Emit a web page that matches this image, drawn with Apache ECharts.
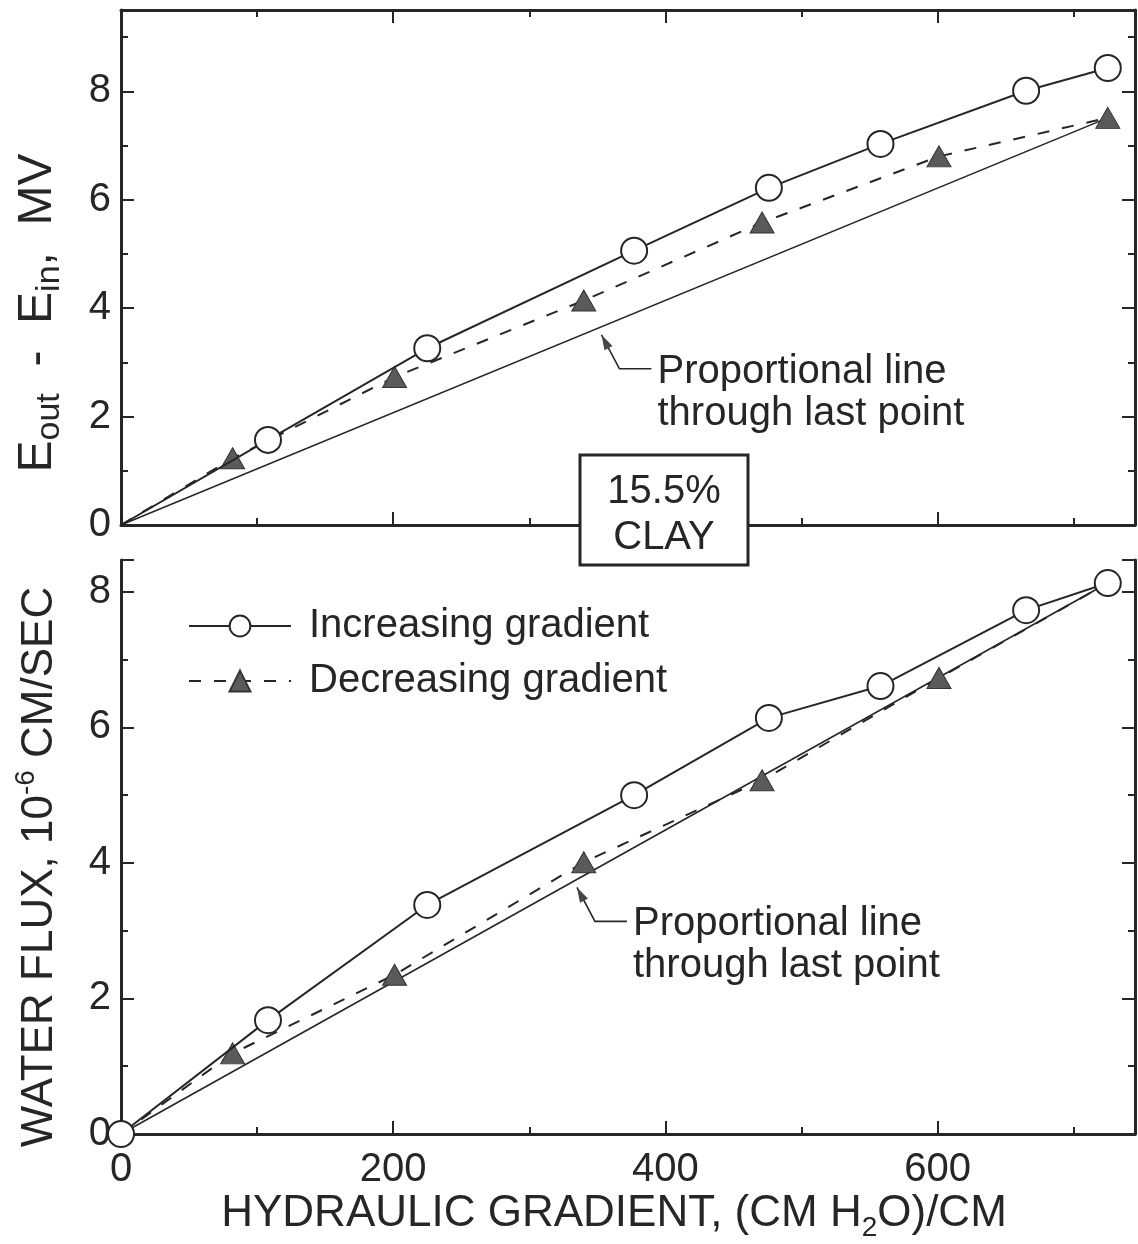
<!DOCTYPE html>
<html>
<head>
<meta charset="utf-8">
<script src="https://cdn.jsdelivr.net/npm/echarts@6/dist/echarts.min.js"></script>
<style>html,body{margin:0;padding:0;background:#fff}#c{width:1138px;height:1244px}</style>
</head>
<body>
<div id="c"></div>
<script>
// ---- data ----
const gradientInc = [0, 108, 225, 377, 476, 558, 665, 725];
const eIncreasing = [0, 1.57, 3.26, 5.06, 6.22, 7.03, 8.01, 8.43];
const fluxIncreasing = [0, 1.68, 3.38, 5.00, 6.14, 6.61, 7.73, 8.13];
const gradientDec = [0, 82, 201, 340, 471, 601, 725];
const eDecreasing = [0, 1.23, 2.73, 4.14, 5.58, 6.80, 7.51];
const fluxDecreasing = [0, 1.19, 2.35, 4.01, 5.22, 6.73, 8.13];
const xTickLabels = ['0', '200', '400', '600'];
const yTickLabels = ['0', '2', '4', '6', '8'];
const seriesNames = ['Increasing gradient', 'Decreasing gradient'];
const annotationLines = ['Proportional line', 'through last point'];
const boxLines = ['15.5%', 'CLAY'];

// ---- layout / style ----
const X_MAX = 745, TOP_Y_MAX = 9.5, BOT_Y_MAX = 8.47;
const FONT = '"Liberation Sans", Arial, sans-serif';
const INK = '#262626';

const chart = echarts.init(document.getElementById('c'));

function xAx(grid, pos, interval, tickLen, line, labels) {
  return {
    type: 'value', gridIndex: grid, position: pos, min: 0, max: X_MAX, interval: interval,
    axisLine: {show: line, onZero: false, lineStyle: {color: INK, width: 3}},
    axisTick: {show: true, inside: true, length: tickLen, lineStyle: {color: INK, width: 2}},
    splitLine: {show: false},
    axisLabel: labels ? {
      show: true, margin: 16, color: INK, fontFamily: FONT, fontSize: 40,
      formatter: v => xTickLabels.indexOf(String(v)) >= 0 ? String(v) : ''
    } : {show: false}
  };
}
function yAx(grid, pos, max, interval, tickLen, line, labels) {
  return {
    type: 'value', gridIndex: grid, position: pos, min: 0, max: max, interval: interval,
    axisLine: {show: line, onZero: false, lineStyle: {color: INK, width: 3}},
    axisTick: {show: true, inside: true, length: tickLen, lineStyle: {color: INK, width: 2}},
    splitLine: {show: false},
    axisLabel: labels ? {
      show: true, margin: 10, color: INK, fontFamily: FONT, fontSize: 40,
      formatter: v => yTickLabels.indexOf(String(v)) >= 0 ? String(v) : ''
    } : {show: false}
  };
}

const xAxes = [
  xAx(0, 'bottom', 200, 13, true, false),   // 0
  xAx(0, 'bottom', 100, 7, false, false),   // 1
  xAx(0, 'top', 200, 13, true, false),      // 2
  xAx(0, 'top', 100, 7, false, false),      // 3
  xAx(1, 'bottom', 200, 13, true, true),    // 4
  xAx(1, 'bottom', 100, 7, false, false)    // 5
];
const yAxes = [
  yAx(0, 'left', TOP_Y_MAX, 2, 13, true, true),    // 0
  yAx(0, 'left', TOP_Y_MAX, 1, 7, false, false),   // 1
  yAx(0, 'right', TOP_Y_MAX, 2, 13, true, false),  // 2
  yAx(0, 'right', TOP_Y_MAX, 1, 7, false, false),  // 3
  yAx(1, 'left', BOT_Y_MAX, 2, 13, true, true),    // 4
  yAx(1, 'left', BOT_Y_MAX, 1, 7, false, false),   // 5
  yAx(1, 'right', BOT_Y_MAX, 2, 13, true, false),  // 6
  yAx(1, 'right', BOT_Y_MAX, 1, 7, false, false)   // 7
];

const circleStyle = {color: '#fff', borderColor: INK, borderWidth: 2};
const triStyle = {color: '#5a5a5a', borderColor: '#333', borderWidth: 1};

function incSeries(xi, yi, ys, originSymbol) {
  return {
    name: seriesNames[0], type: 'line', xAxisIndex: xi, yAxisIndex: yi,
    symbol: 'circle', symbolSize: 26, itemStyle: circleStyle,
    lineStyle: {color: INK, width: 2}, z: 4, animation: false,
    data: gradientInc.map((g, i) => i === 0 && !originSymbol ? {value: [g, ys[i]], symbol: 'none'} : [g, ys[i]])
  };
}
function decSeries(xi, yi, ys, lastSymbol) {
  const n = gradientDec.length;
  return {
    name: seriesNames[1], type: 'line', xAxisIndex: xi, yAxisIndex: yi,
    symbol: 'triangle', symbolSize: [24, 21], itemStyle: triStyle,
    lineStyle: {color: INK, width: 2, type: [12, 13]}, z: 3, animation: false,
    data: gradientDec.map((g, i) => (i === 0 || (i === n - 1 && !lastSymbol)) ? {value: [g, ys[i]], symbol: 'none'} : [g, ys[i]])
  };
}
function propSeries(xi, yi, ys) {
  const n = gradientDec.length;
  return {
    name: 'Proportional', type: 'line', xAxisIndex: xi, yAxisIndex: yi,
    symbol: 'none', lineStyle: {color: INK, width: 1.6}, z: 2, animation: false,
    data: [[0, 0], [gradientDec[n - 1], ys[n - 1]]]
  };
}

chart.setOption({
  animation: false,
  backgroundColor: '#fff',
  grid: [
    {left: 121, top: 10, width: 1014, height: 515},
    {left: 121, top: 560, width: 1014, height: 574}
  ],
  xAxis: xAxes,
  yAxis: yAxes,
  legend: {
    data: seriesNames, orient: 'vertical', left: 188, top: 606, padding: 0,
    itemWidth: 102, itemHeight: 26, itemGap: 15,
    textStyle: {fontFamily: FONT, fontSize: 40, color: INK, lineHeight: 40, padding: [0, 0, 0, 13]},
    selectedMode: false
  },
  series: [
    propSeries(0, 0, eDecreasing),
    decSeries(0, 0, eDecreasing, true),
    incSeries(0, 0, eIncreasing, false),
    propSeries(4, 4, fluxDecreasing),
    decSeries(4, 4, fluxDecreasing, false),
    incSeries(4, 4, fluxIncreasing, true)
  ]
});

// ---- annotations (positions derived from the axes) ----
function annotation(xi, yi, xAt, ys) {
  const n = gradientDec.length;
  const slope = ys[n - 1] / gradientDec[n - 1];
  const p = chart.convertToPixel({xAxisIndex: xi, yAxisIndex: yi}, [xAt, slope * xAt]);
  const tip = [p[0], p[1] + 8];
  const knee = [tip[0] + 18, tip[1] + 34];
  const end = [tip[0] + 50, tip[1] + 34];
  const dx = tip[0] - knee[0], dy = tip[1] - knee[1];
  const L = Math.hypot(dx, dy), ux = dx / L, uy = dy / L;
  const base = [tip[0] - ux * 15, tip[1] - uy * 15];
  const nx = -uy, ny = ux;
  const els = [
    {type: 'polyline', shape: {points: [tip, knee, end]}, style: {stroke: INK, lineWidth: 1.6, fill: null}, z: 50},
    {type: 'polygon', shape: {points: [tip, [base[0] + nx * 4.5, base[1] + ny * 4.5], [base[0] - nx * 4.5, base[1] - ny * 4.5]]}, style: {fill: '#444'}, z: 50}
  ];
  annotationLines.forEach((t, i) => {
    els.push({type: 'text', x: tip[0] + 56, y: tip[1] + 37 + i * 42, z: 50,
      style: {text: t, font: '40px ' + FONT, fill: INK, align: 'left', verticalAlign: 'middle'}});
  });
  return els;
}

const sub = {fontSize: 28, fontFamily: FONT, lineHeight: 28, verticalAlign: 'bottom', fill: INK};
const subBig = {fontSize: 34, fontFamily: FONT, lineHeight: 30, verticalAlign: 'bottom', fill: INK};
const sup = {fontSize: 28, fontFamily: FONT, lineHeight: 28, verticalAlign: 'top', fill: INK};

const graphics = [].concat(
  annotation(0, 0, 353, eDecreasing),
  annotation(4, 4, 335, fluxDecreasing),
  [
    {type: 'rect', shape: {x: 580, y: 455, width: 168, height: 110}, style: {fill: '#fff', stroke: INK, lineWidth: 3}, z: 100},
    {type: 'text', x: 664, y: 492, z: 101, style: {text: boxLines[0], font: '40px ' + FONT, fill: INK, align: 'center', verticalAlign: 'middle'}},
    {type: 'text', x: 664, y: 538, z: 101, style: {text: boxLines[1], font: '40px ' + FONT, fill: INK, align: 'center', verticalAlign: 'middle'}},
    {type: 'text', x: 38, y: 313, rotation: Math.PI / 2, z: 50,
      style: {text: 'E{sub|out}  -  E{sub|in},  MV', rich: {sub: subBig}, fontSize: 48, fontFamily: FONT, lineHeight: 58, fill: INK, align: 'center', verticalAlign: 'middle'}},
    {type: 'text', x: 40, y: 867, rotation: Math.PI / 2, z: 50,
      style: {text: 'WATER FLUX, 10{sup|-6} CM/SEC', rich: {sup: sup}, fontSize: 44, fontFamily: FONT, lineHeight: 56, fill: INK, align: 'center', verticalAlign: 'middle'}},
    {type: 'text', x: 614, y: 1214, z: 50,
      style: {text: 'HYDRAULIC GRADIENT, (CM H{sub|2}O)/CM', rich: {sub: sub}, fontSize: 44, fontFamily: FONT, lineHeight: 56, fill: INK, align: 'center', verticalAlign: 'middle'}}
  ]
);
chart.setOption({graphic: {elements: graphics}});
</script>
</body>
</html>
